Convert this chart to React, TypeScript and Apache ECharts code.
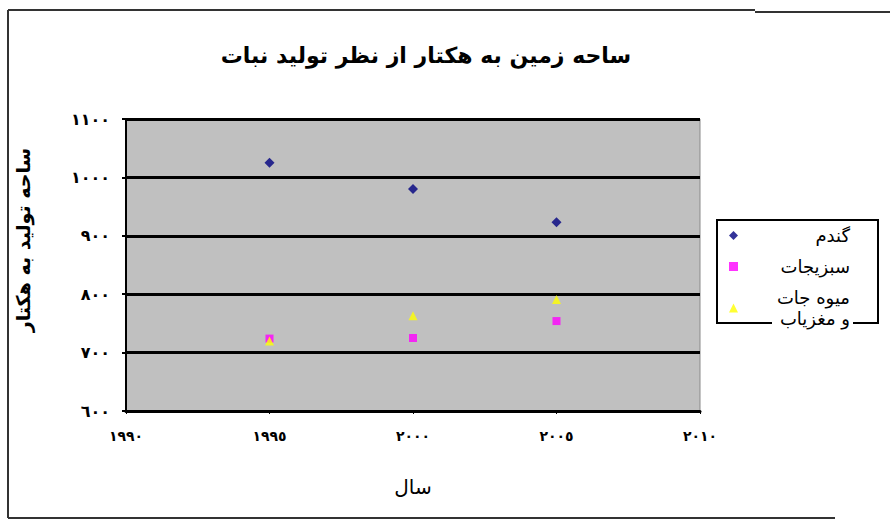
import React, { useEffect, useRef } from "react";
import * as echarts from "echarts";

const years = [1995, 2000, 2005];
const wheat = [1025, 980, 923];
const vegetables = [724, 725, 754];
const fruits = [720, 763, 791];
const seriesNames = ["گندم", "سبزیجات", "میوه جات\nو مغزیاب"];
const titleText = "ساحه زمین به هکتار از نظر تولید نبات";
const yTitle = "ساحه تولید به هکتار";
const xTitle = "سال";

const toArabicDigits = (v: number | string) =>
  String(v).replace(/\d/g, (d) => "٠١٢٣٤٥٦٧٨٩"[Number(d)]);

const FONT = "DejaVu Sans";

export default function App() {
  const ref = useRef<HTMLDivElement>(null);
  useEffect(() => {
    if (!ref.current) return;
    const chart = echarts.init(ref.current, undefined, { renderer: "svg" });
    const pts = (vals: number[]) => years.map((y, i) => [y, vals[i]]);
    const frame = { stroke: "#000", lineWidth: 2 };
    chart.setOption({
      animation: false,
      backgroundColor: "#ffffff",
      textStyle: { fontFamily: FONT },
      title: {
        text: titleText,
        left: 421,
        top: 39,
        textAlign: "center",
        textStyle: { fontFamily: FONT, fontSize: 22, fontWeight: "bold", color: "#000" },
      },
      grid: {
        left: 126,
        right: 193,
        top: 119,
        bottom: 110,
        show: true,
        backgroundColor: "#c0c0c0",
        borderColor: "#8a8a8a",
        borderWidth: 1,
      },
      legend: {
        orient: "vertical",
        left: 717,
        top: 220,
        padding: [5, 10, 0, 12],
        itemGap: 10,
        itemWidth: 9,
        itemHeight: 9,
        data: seriesNames,
        formatter: (name: string) =>
          name
            .split("\n")
            .map((l) => `{a|${l}}`)
            .join("\n"),
        textStyle: {
          fontFamily: FONT,
          fontSize: 18,
          color: "#000",
          lineHeight: 21,
          rich: {
            a: {
              fontFamily: FONT,
              fontSize: 18,
              color: "#000",
              width: 107,
              align: "right",
              lineHeight: 21,
            },
          },
        },
      },
      xAxis: {
        type: "value",
        min: 1990,
        max: 2010,
        interval: 5,
        name: xTitle,
        nameLocation: "middle",
        nameGap: 66,
        nameTextStyle: { fontFamily: FONT, fontSize: 20, color: "#000" },
        axisLine: { show: true, onZero: false, lineStyle: { color: "#000", width: 3 } },
        axisTick: { show: true, length: 3, lineStyle: { color: "#000" } },
        splitLine: { show: false },
        axisLabel: {
          margin: 18,
          fontFamily: FONT,
          fontSize: 14,
          fontWeight: "bold",
          color: "#000",
          formatter: (v: number) => toArabicDigits(v),
        },
      },
      yAxis: {
        type: "value",
        min: 600,
        max: 1100,
        interval: 100,
        axisLine: { show: true, lineStyle: { color: "#000", width: 2 } },
        axisTick: { show: true, length: 4, lineStyle: { color: "#000", width: 2 } },
        splitLine: { show: true, lineStyle: { color: "#000", width: 3 } },
        axisLabel: {
          margin: 16,
          fontFamily: FONT,
          fontSize: 16,
          fontWeight: "bold",
          color: "#000",
          formatter: (v: number) => toArabicDigits(v),
        },
      },
      graphic: [
        {
          type: "text",
          x: 23,
          y: 240,
          rotation: Math.PI / 2,
          style: {
            text: yTitle,
            fontFamily: FONT,
            fontSize: 19,
            fontWeight: "bold",
            fill: "#000",
            align: "center",
            verticalAlign: "middle",
          },
        },
        {
          type: "polyline",
          shape: { points: [[772, 323], [717, 323], [717, 220], [878, 220], [878, 323], [853, 323]] },
          style: { ...frame, fill: null },
        },
        { type: "line", shape: { x1: 8, y1: 10, x2: 755, y2: 10 }, style: { stroke: "#333", lineWidth: 2 } },
        { type: "line", shape: { x1: 755, y1: 12, x2: 890, y2: 12 }, style: { stroke: "#333", lineWidth: 2 } },
        { type: "line", shape: { x1: 8, y1: 10, x2: 8, y2: 518 }, style: { stroke: "#333", lineWidth: 2 } },
        { type: "line", shape: { x1: 8, y1: 518, x2: 835, y2: 518 }, style: { stroke: "#333", lineWidth: 2 } },
      ],
      series: [
        {
          name: seriesNames[0],
          type: "scatter",
          symbol: "diamond",
          symbolSize: 10,
          itemStyle: { color: "#000080" },
          data: pts(wheat),
        },
        {
          name: seriesNames[1],
          type: "scatter",
          symbol: "rect",
          symbolSize: 8,
          itemStyle: { color: "#ff00ff" },
          data: pts(vegetables),
        },
        {
          name: seriesNames[2],
          type: "scatter",
          symbol: "triangle",
          symbolSize: 9,
          itemStyle: { color: "#ffff00" },
          data: pts(fruits),
        },
      ],
    });
    return () => chart.dispose();
  }, []);
  return <div ref={ref} style={{ width: 893, height: 521, position: "absolute", left: 0, top: 0 }} />;
}
